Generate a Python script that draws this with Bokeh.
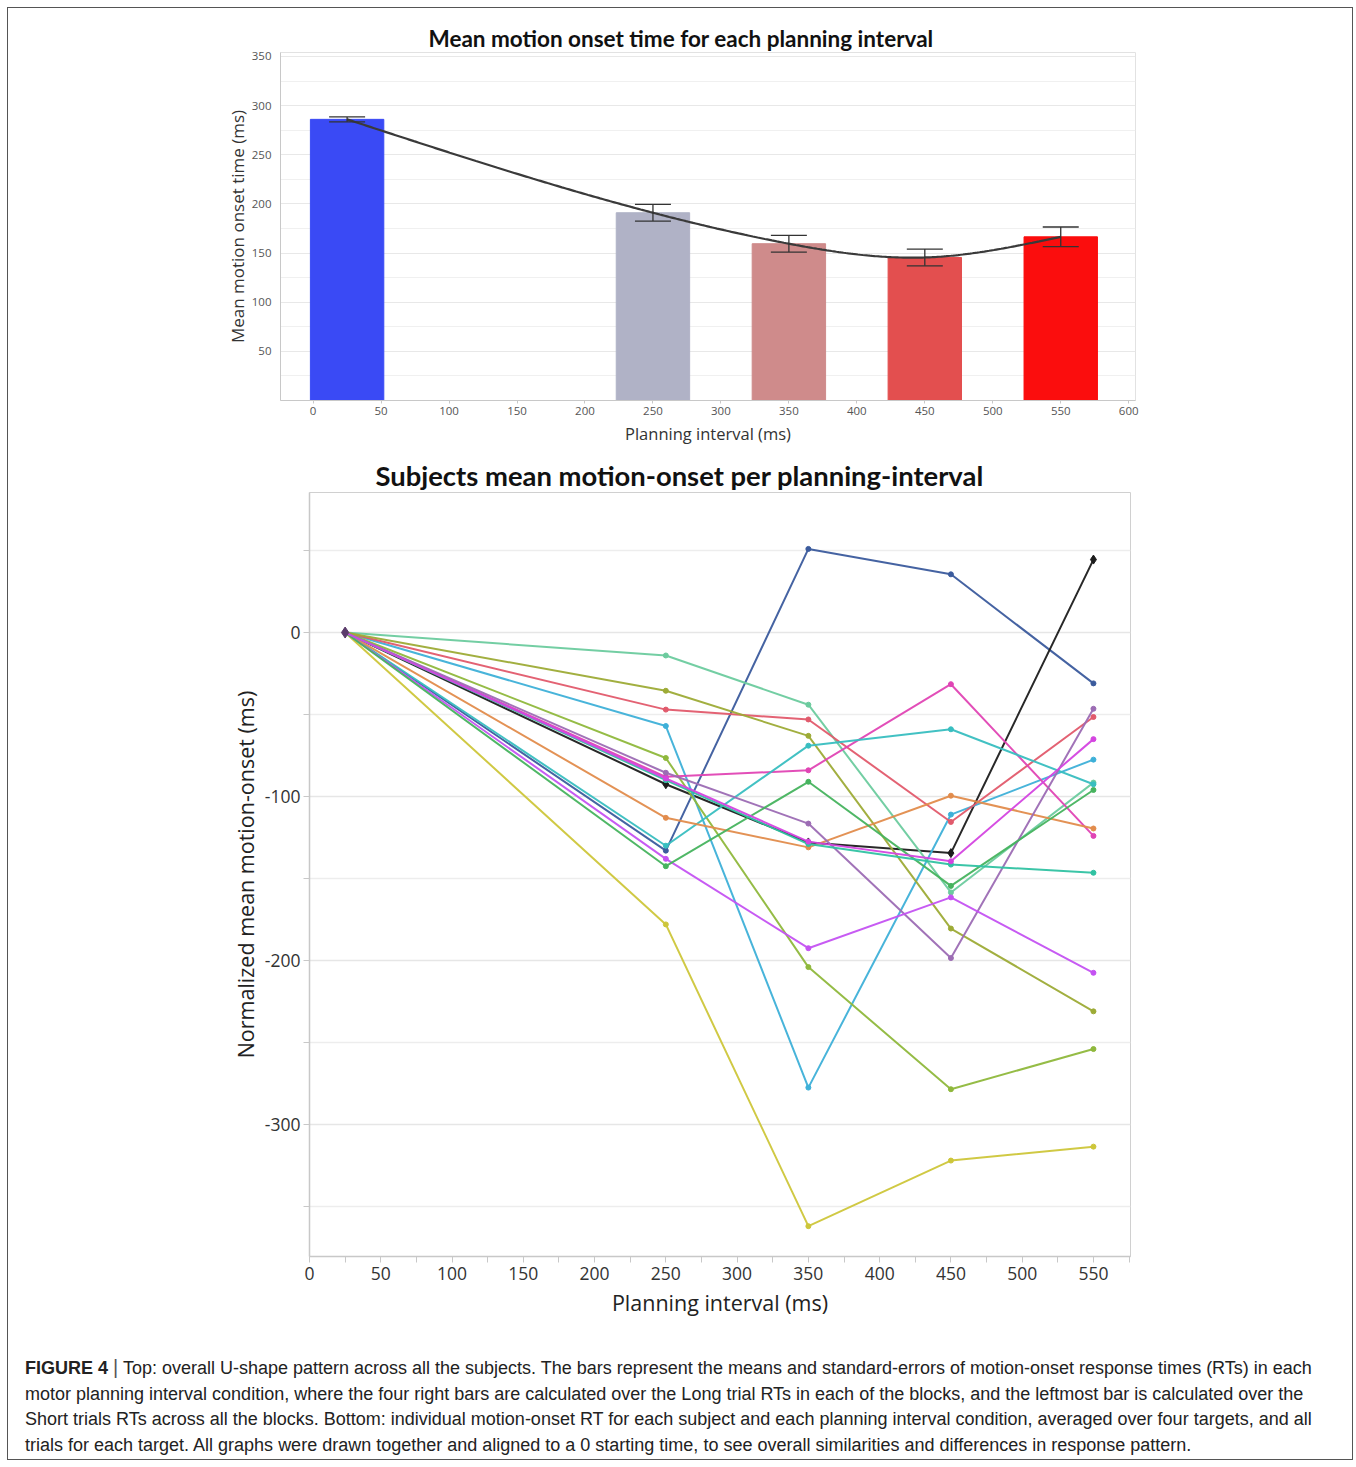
import numpy as np
from bokeh.plotting import figure
from bokeh.models import (FixedTicker, Range1d, Whisker, TeeHead, ColumnDataSource, Div,
                          PrintfTickFormatter)
from bokeh.layouts import column
from bokeh.embed import file_html
from bokeh.resources import INLINE

# ---------------- data: top chart ----------------
intervals = [25, 250, 350, 450, 550]
mean_onset = [286, 191, 159.5, 145.5, 166.5]
se_onset = [2.5, 8.5, 8.5, 8.5, 10]
bar_colors = ["#3a4af5", "#b0b2c6", "#cf8b8b", "#e34f4f", "#fb0d0d"]
top_xticks = [0, 50, 100, 150, 200, 250, 300, 350, 400, 450, 500, 550, 600]
top_yticks = [50, 100, 150, 200, 250, 300, 350]

# ---------------- data: bottom chart ----------------
bottom_xticks = [0, 50, 100, 150, 200, 250, 300, 350, 400, 450, 500, 550]
bottom_yticks = [-300, -200, -100, 0]
subj_01 = [0, -133, 51, 35.5, -31]
subj_02 = [0, -92.5, -128, -134.5, 44.5]
subj_03 = [0, -178, -362, -322, -313.5]
subj_04 = [0, -57, -277.5, -111, -77.5]
subj_05 = [0, -14, -44, -158.5, -91.5]
subj_06 = [0, -47, -53, -115.5, -51.5]
subj_07 = [0, -35.5, -63, -180.5, -231]
subj_08 = [0, -76.5, -204, -278.5, -254]
subj_09 = [0, -88, -84, -31.5, -124]
subj_10 = [0, -130, -69, -59, -92.5]
subj_11 = [0, -113, -131, -99.5, -119.5]
subj_12 = [0, -85.5, -116.5, -198.5, -46.5]
subj_13 = [0, -138, -192.5, -161.5, -207.5]
subj_14 = [0, -142.5, -91, -154.5, -96]
subj_15 = [0, -90, -129, -141.5, -146.5]
subj_16 = [0, -89, -127.5, -139.5, -65]

subjects = [subj_01, subj_02, subj_03, subj_04, subj_05, subj_06, subj_07, subj_08,
            subj_09, subj_10, subj_11, subj_12, subj_13, subj_14, subj_15, subj_16]
subj_colors = ["#3b5b9d", "#1c1c1c", "#cdc63a", "#3eb0d8", "#6ccb9e", "#e15a6c",
               "#9dab36", "#8fb83c", "#e044b4", "#38bec0", "#e28c4c", "#9c6cb4",
               "#c452f2", "#46b35e", "#30c2a2", "#d444e0"]

caption_html = (
    "<b>FIGURE 4</b> <span style='font-size:20px;color:#555'>|</span> Top: overall U-shape pattern across all the subjects. "
    "The bars represent the means and standard-errors of motion-onset response times (RTs) in each<br>"
    "motor planning interval condition, where the four right bars are calculated over the Long trial RTs "
    "in each of the blocks, and the leftmost bar is calculated over the<br>"
    "Short trials RTs across all the blocks. Bottom: individual motion-onset RT for each subject and each "
    "planning interval condition, averaged over four targets, and all<br>"
    "trials for each target. All graphs were drawn together and aligned to a 0 starting time, to see "
    "overall similarities and differences in response pattern."
)

W = 1344


def natural_spline(xs, ys, n=300):
    xs = np.asarray(xs, float)
    ys = np.asarray(ys, float)
    k = len(xs)
    h = np.diff(xs)
    A = np.zeros((k, k))
    b = np.zeros(k)
    A[0, 0] = 1
    A[-1, -1] = 1
    for i in range(1, k - 1):
        A[i, i - 1] = h[i - 1]
        A[i, i] = 2 * (h[i - 1] + h[i])
        A[i, i + 1] = h[i]
        b[i] = 3 * ((ys[i + 1] - ys[i]) / h[i] - (ys[i] - ys[i - 1]) / h[i - 1])
    c = np.linalg.solve(A, b)
    xx = np.linspace(xs[0], xs[-1], n)
    yy = np.empty_like(xx)
    for j, x in enumerate(xx):
        i = min(np.searchsorted(xs, x, side="right") - 1, k - 2)
        dx = x - xs[i]
        bb = (ys[i + 1] - ys[i]) / h[i] - h[i] * (2 * c[i] + c[i + 1]) / 3
        d = (c[i + 1] - c[i]) / (3 * h[i])
        yy[j] = ys[i] + bb * dx + c[i] * dx ** 2 + d * dx ** 3
    return xx, yy


# ---------------- top figure ----------------
p1 = figure(width=W, height=442, output_backend="svg", toolbar_location=None,
            x_range=Range1d(-24, 605), y_range=Range1d(0, 354),
            min_border_left=272, min_border_right=217, min_border_top=44, min_border_bottom=50)
p1.frame_align = False
p1.title.text = "Mean motion onset time for each planning interval"
p1.title.align = "left"
p1.title.offset = 148
p1.title.text_font = "Lato"
p1.title.text_font_style = "bold"
p1.title.text_font_size = "22.5px"
p1.title.text_color = "#111111"
p1.title.standoff = 2

src = ColumnDataSource(dict(x=intervals, top=mean_onset, color=bar_colors,
                            upper=[m + s for m, s in zip(mean_onset, se_onset)],
                            lower=[m - s for m, s in zip(mean_onset, se_onset)]))
p1.vbar(x="x", top="top", bottom=0, width=54, color="color", source=src)
xx, yy = natural_spline(intervals, mean_onset)
p1.line(xx, yy, line_color="#3a3a3a", line_width=2.2)
w = Whisker(base="x", upper="upper", lower="lower", source=src, line_color="#333333", line_width=1.3,
            level="overlay",
            upper_head=TeeHead(size=36, line_color="#333333", line_width=1.3),
            lower_head=TeeHead(size=36, line_color="#333333", line_width=1.3))
p1.add_layout(w)

p1.xaxis.ticker = FixedTicker(ticks=top_xticks, minor_ticks=[])
p1.yaxis.ticker = FixedTicker(ticks=top_yticks, minor_ticks=[25, 75, 125, 175, 225, 275, 325])
p1.xgrid.grid_line_color = None
p1.ygrid.grid_line_color = "#e8e8e8"
p1.ygrid.minor_grid_line_color = "#f0f0f0"
p1.outline_line_color = "#e2e2e2"
for ax in (p1.xaxis, p1.yaxis):
    ax.axis_line_color = "#c8c8c8"
    ax.major_tick_line_color = "#c8c8c8"
    ax.minor_tick_line_color = None
    ax.major_tick_in = 0
    ax.major_label_text_font = "Open Sans"
    ax.major_label_text_font_size = "11.5px"
    ax.major_label_text_color = "#555555"
    ax.axis_label_text_font = "Open Sans"
    ax.axis_label_text_font_style = "normal"
    ax.axis_label_text_color = "#333333"
p1.xaxis.major_tick_out = 3
p1.yaxis.major_tick_out = 0
p1.xaxis.major_label_standoff = 3
p1.yaxis.major_label_standoff = 5
p1.xaxis.axis_label = "Planning interval (ms)"
p1.yaxis.axis_label = "Mean motion onset time (ms)"
p1.xaxis.axis_label_text_font_size = "16.5px"
p1.yaxis.axis_label_text_font_size = "17px"
p1.xaxis.axis_label_standoff = 4
p1.yaxis.axis_label_standoff = 0

# ---------------- bottom figure ----------------
p2 = figure(width=W, height=880, output_backend="svg", toolbar_location=None,
            x_range=Range1d(0, 576), y_range=Range1d(-380.5, 85.4),
            min_border_left=301, min_border_right=222, min_border_top=42, min_border_bottom=74)
p2.frame_align = False
p2.title.text = "Subjects mean motion-onset per planning-interval"
p2.title.align = "left"
p2.title.offset = 66
p2.title.text_font = "Lato"
p2.title.text_font_style = "bold"
p2.title.text_font_size = "27.4px"
p2.title.text_color = "#111111"
p2.title.standoff = 2

for vals, col in zip(subjects, subj_colors):
    p2.line(intervals, vals, line_color=col, line_width=2, line_alpha=0.95)
    if col == "#1c1c1c":
        p2.scatter(intervals[1:], vals[1:], marker="diamond", size=9, color=col)
    else:
        p2.scatter(intervals[1:], vals[1:], size=5, color=col)
p2.scatter([intervals[0]], [subj_02[0]], marker="diamond", size=11, color="#5a3a6a")

p2.xaxis.ticker = FixedTicker(ticks=bottom_xticks,
                              minor_ticks=[25, 75, 125, 175, 225, 275, 325, 375, 425, 475, 525, 575])
p2.yaxis.ticker = FixedTicker(ticks=bottom_yticks, minor_ticks=[-350, -250, -150, -50, 50])
p2.yaxis.formatter = PrintfTickFormatter(format="%d")
p2.xgrid.grid_line_color = None
p2.ygrid.grid_line_color = "#e6e6e6"
p2.ygrid.grid_line_width = 1.5
p2.ygrid.minor_grid_line_color = "#ededed"
p2.ygrid.minor_grid_line_width = 1.5
p2.outline_line_color = "#d0d0d0"
for ax in (p2.xaxis, p2.yaxis):
    ax.axis_line_color = "#c8c8c8"
    ax.axis_line_width = 1.5
    ax.major_tick_line_color = "#c8c8c8"
    ax.minor_tick_line_color = "#c8c8c8"
    ax.major_tick_in = 0
    ax.minor_tick_in = 0
    ax.major_label_text_font = "Open Sans"
    ax.major_label_text_font_size = "17.5px"
    ax.major_label_text_color = "#333333"
    ax.axis_label_text_font = "Open Sans"
    ax.axis_label_text_font_style = "normal"
    ax.axis_label_text_color = "#222222"
p2.xaxis.major_tick_out = 6
p2.xaxis.minor_tick_out = 6
p2.yaxis.major_tick_out = 6
p2.yaxis.minor_tick_out = 6
p2.xaxis.major_label_standoff = 4
p2.yaxis.major_label_standoff = 3
p2.xaxis.axis_label = "Planning interval (ms)"
p2.yaxis.axis_label = "Normalized mean motion-onset (ms)"
p2.xaxis.axis_label_text_font_size = "21.5px"
p2.yaxis.axis_label_text_font_size = "21.5px"
p2.xaxis.axis_label_standoff = 5
p2.yaxis.axis_label_standoff = 2

cap = Div(text=caption_html, width=W, height=129,
          styles={"font-family": "'Liberation Sans', Arial, sans-serif", "font-size": "18px",
                  "line-height": "25.5px", "color": "#222222", "padding-left": "12px",
                  "padding-top": "20px", "white-space": "nowrap"})

layout = column(p1, p2, cap, width=W + 2, height=442 + 880 + 129 + 2, sizing_mode="fixed",
                styles={"border": "1px solid #555555", "margin": "7px 0 0 7px",
                        "box-sizing": "border-box", "overflow": "hidden"})

open("out.html", "w").write(file_html(layout, INLINE))
